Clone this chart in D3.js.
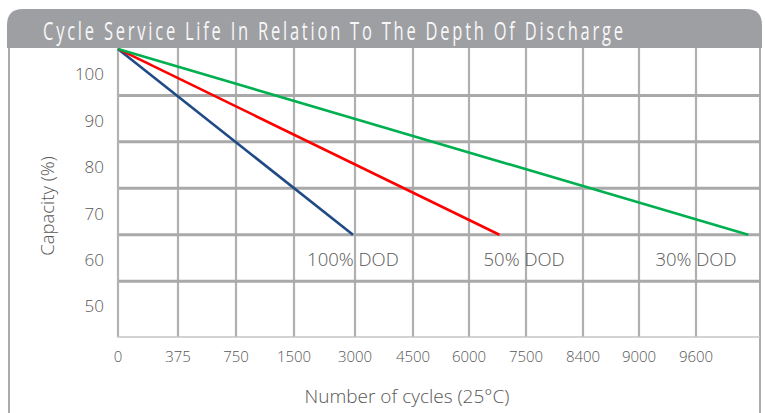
<!DOCTYPE html>
<html>
<head>
<meta charset="utf-8">
<script src="https://cdn.jsdelivr.net/npm/d3@7/dist/d3.min.js"></script>
<style>
  html, body { margin: 0; padding: 0; background: #ffffff; }
  svg { display: block; }
</style>
</head>
<body>
<div id="chart"></div>
<script>
// ---------- data ----------
const title = "Cycle Service Life In Relation To The Depth Of Discharge";
const xTickLabels = ["0", "375", "750", "1500", "3000", "4500", "6000", "7500", "8400", "9000", "9600"];
const xStops = [0, 375, 750, 1500, 3000, 4500, 6000, 7500, 8400, 9000, 9600, 10200];
const yTickLabels = [100, 90, 80, 70, 60, 50];
const yGridValues = [95, 85, 75, 65, 55];
const seriesNames = ["100% DOD", "50% DOD", "30% DOD"];
const seriesCycles = [[0, 2950], [0, 6800], [0, 10140]];
const seriesCapacity = [[105, 65], [105, 65], [105, 65]];
const seriesLabelCycles = [2950, 7450, 9600];
const seriesLabelCapacity = [60, 60, 60];
const xTitle = "Number of cycles (25\u00B0C)";
const yTitle = "Capacity (%)";

// ---------- layout ----------
const W = 765, H = 413;
const plotLeft = 118, plotTop = 48, plotBottom = 337, frameRight = 760;
const xPositions = [118, 178, 236, 294, 355, 413, 469, 526, 583, 639, 696, 754];
const colors = ["#1f4a86", "#ff0000", "#00b050"];
const gridColor = "#a9a9a9";
const textColor = "#575757";
const labelFont = "'Open Sans', 'Noto Sans', 'DejaVu Sans', sans-serif";

const svg = d3.select("#chart").append("svg")
  .attr("width", W).attr("height", H);

const x = d3.scaleLinear().domain(xStops).range(xPositions);
const y = d3.scaleLinear().domain([43, 105.2]).range([plotBottom, plotTop]);

// header
const hx0 = 7, hx1 = 762, hy0 = 9, hy1 = 48, r = 16;
svg.append("path")
  .attr("d", `M${hx0},${hy1} L${hx0},${hy0 + r} Q${hx0},${hy0} ${hx0 + r},${hy0} L${hx1 - r},${hy0} Q${hx1},${hy0} ${hx1},${hy0 + r} L${hx1},${hy1} Z`)
  .attr("fill", "#9e9fa3");

const titleScale = 0.66;
svg.append("text")
  .attr("transform", `translate(43,40) scale(${titleScale},1)`)
  .attr("x", 0).attr("y", 0)
  .attr("fill", "#f7f7f7")
  .attr("font-family", "'Open Sans', 'Liberation Sans', sans-serif")
  .attr("font-size", 25)
  .attr("textLength", 580 / titleScale)
  .attr("lengthAdjust", "spacing")
  .text(title);

// outer frame sides
svg.append("line").attr("x1", 9).attr("x2", 9).attr("y1", hy1).attr("y2", H)
  .attr("stroke", "#ababab").attr("stroke-width", 2);
svg.append("line").attr("x1", frameRight).attr("x2", frameRight).attr("y1", hy1).attr("y2", H)
  .attr("stroke", "#ababab").attr("stroke-width", 2);

// vertical grid lines
svg.append("g").selectAll("line").data(xStops.slice(1, 11)).join("line")
  .attr("x1", d => x(d)).attr("x2", d => x(d))
  .attr("y1", plotTop).attr("y2", plotBottom)
  .attr("stroke", "#b0b0b0").attr("stroke-width", 2.2);

// horizontal grid lines
svg.append("g").selectAll("line").data(yGridValues).join("line")
  .attr("x1", plotLeft).attr("x2", frameRight)
  .attr("y1", d => y(d)).attr("y2", d => y(d))
  .attr("stroke", gridColor).attr("stroke-width", 3);

// axes lines
svg.append("line").attr("x1", plotLeft).attr("x2", plotLeft).attr("y1", plotTop).attr("y2", plotBottom)
  .attr("stroke", "#b3b3b3").attr("stroke-width", 2.2);
svg.append("line").attr("x1", plotLeft - 1).attr("x2", frameRight).attr("y1", plotBottom).attr("y2", plotBottom)
  .attr("stroke", "#c4c4c4").attr("stroke-width", 1.6);

// x tick labels
svg.append("g").selectAll("text").data(xTickLabels).join("text")
  .attr("x", (d, i) => x(xStops[i])).attr("y", 362)
  .attr("text-anchor", "middle")
  .attr("fill", textColor).attr("font-family", labelFont).attr("font-weight", 300)
  .attr("font-size", 15)
  .text(d => d);

// y tick labels
svg.append("g").selectAll("text").data(yTickLabels).join("text")
  .attr("x", 104).attr("y", d => y(d) + 8)
  .attr("text-anchor", "end")
  .attr("fill", textColor).attr("font-family", labelFont).attr("font-weight", 300)
  .attr("font-size", 17)
  .text(d => d);

// axis titles
svg.append("text").attr("x", 407).attr("y", 403)
  .attr("text-anchor", "middle")
  .attr("fill", textColor).attr("font-family", labelFont).attr("font-weight", 300)
  .attr("font-size", 19).text(xTitle);
svg.append("text")
  .attr("transform", "translate(54,206) rotate(-90)")
  .attr("text-anchor", "middle")
  .attr("fill", textColor).attr("font-family", labelFont).attr("font-weight", 300)
  .attr("font-size", 18.5).text(yTitle);

// series lines
const line = d3.line().x(d => x(d[0])).y(d => y(d[1]));
seriesNames.forEach((name, i) => {
  const pts = seriesCycles[i].map((c, j) => [c, seriesCapacity[i][j]]);
  svg.append("path").datum(pts)
    .attr("d", line)
    .attr("fill", "none")
    .attr("stroke", colors[i])
    .attr("stroke-width", 2.6);
});

// series labels
svg.append("g").selectAll("text").data(seriesNames).join("text")
  .attr("x", (d, i) => x(seriesLabelCycles[i]))
  .attr("y", (d, i) => y(seriesLabelCapacity[i]) + 8)
  .attr("text-anchor", "middle")
  .attr("fill", textColor).attr("font-family", labelFont).attr("font-weight", 300)
  .attr("font-size", 18.5)
  .text(d => d);
</script>
</body>
</html>
